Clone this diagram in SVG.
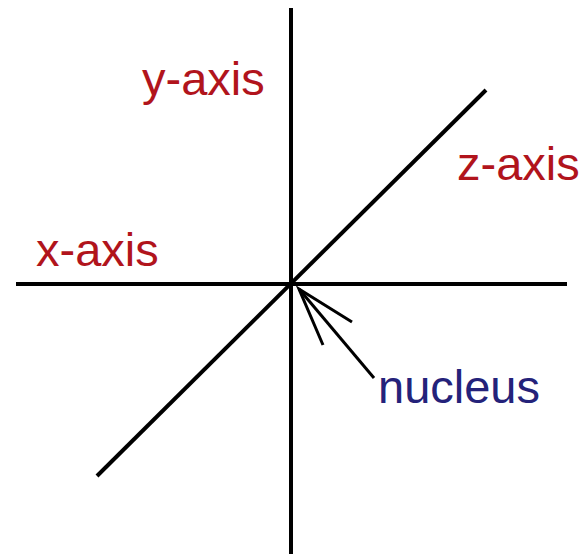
<svg xmlns="http://www.w3.org/2000/svg" width="588" height="554" viewBox="0 0 588 554">
<style>
.ax{stroke:#000;stroke-width:4;fill:none}
.ar{stroke:#000;stroke-width:3;fill:none}
.lbl{font-family:"Liberation Sans",Arial,sans-serif;font-size:47px;fill:#b1141c}
.nuc{font-family:"Liberation Sans",Arial,sans-serif;font-size:47px;fill:#24227a}
</style>
<rect width="588" height="554" fill="#fff"/>
<g id="connectors">
<line class="ax" x1="291" y1="8" x2="291" y2="554"/>
<line class="ax" x1="16" y1="284" x2="567" y2="284"/>
<line class="ax" x1="97" y1="476" x2="486" y2="90"/>
<line class="ar" x1="299" y1="289" x2="374" y2="378"/>
<polyline class="ar" points="352,322 299,289 323,345"/>
</g>
<g id="y-axis"><text class="lbl" x="142" y="95">y-axis</text></g>
<g id="z-axis"><text class="lbl" x="457" y="180">z-axis</text></g>
<g id="x-axis"><text class="lbl" x="36" y="266">x-axis</text></g>
<g id="nucleus"><text class="nuc" x="378" y="403">nucleus</text></g>
</svg>
